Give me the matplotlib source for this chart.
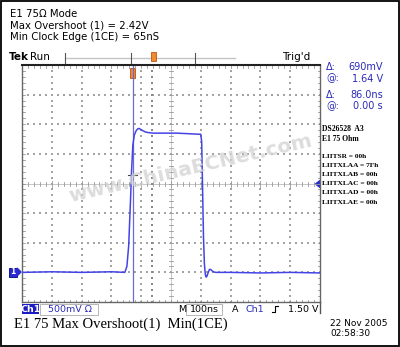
import matplotlib.pyplot as plt
import numpy as np

# scope settings / readings
volts_per_div = 0.5
ns_per_div = 100
y_lo, y_hi = -0.5, 3.5

# channel 1 trace (time in ns from left edge of screen, volts)
trace_t = [0, 100, 200, 300, 345, 352, 358, 364, 368, 372, 377, 383, 388, 393, 399, 406,
           414, 423, 440, 470, 520, 560, 600, 603, 606, 609, 612, 615, 618, 621, 625,
           629, 633, 637, 642, 650, 700, 800, 900, 1000]
trace_v = [0.0, 0.01, 0.0, 0.01, 0.0, 0.1, 0.45, 1.2, 1.75, 2.15, 2.32, 2.39, 2.42, 2.43, 2.41, 2.39,
           2.37, 2.36, 2.35, 2.35, 2.35, 2.34, 2.33, 2.2, 1.4, 0.6, 0.15, -0.03, -0.08, -0.06, 0.0,
           0.05, 0.05, 0.03, 0.01, 0.0, 0.0, -0.01, 0.0, -0.01]

cursor_solid = 371
cursor_dotted = 436
cursor_level = 1.65
trig_level = 1.5

header = ["E1 75\u03a9 Mode", "Max Overshoot (1) = 2.42V", "Min Clock Edge (1CE) = 65nS"]
readout_lbl = ["\u0394:", "@:", "\u0394:", "@:"]
readout_val = ["690mV", "1.64 V", "86.0ns", "0.00 s"]
regs = ["LIITSR = 00h", "LIITXLAA = 7Fh", "LIITXLAB = 00h", "LIITXLAC = 00h",
        "LIITXLAD = 00h", "LIITXLAE = 00h"]

fig = plt.figure(figsize=(4, 3.47), dpi=100)
fig.patch.set_facecolor('white')
ov = fig.add_axes([0, 0, 1, 1])
ov.set_xlim(0, 400)
ov.set_ylim(347, 0)
ov.axis('off')

ax = fig.add_axes([22/400, (347-302)/347, 298/400, 237/347])
ax.set_facecolor('none')
ax.set_xlim(0, 1000)
ax.set_ylim(y_lo, y_hi)
ax.set_xticks([])
ax.set_yticks([])
for s in ax.spines.values():
    s.set_color('#666666')
    s.set_linewidth(1.0)
ax.spines['top'].set_color('#222222')
ax.spines['top'].set_linewidth(1.5)

pxx = 1000/298
pxy = 4/237
grid_c = '#a4a4a4'
tick_c = '#999999'
# dotted grid
xs = np.arange(0, 1001, 20)
ys = np.arange(y_lo, y_hi + 0.001, 0.1)
for gx in range(100, 1000, 100):
    if gx == 500:
        continue
    ax.scatter(np.full(len(ys), gx), ys, s=0.8, marker='s', color=grid_c, lw=0, zorder=1)
for gy in np.arange(0, 3.01, 0.5):
    if abs(gy - 1.5) < 1e-6:
        continue
    ax.scatter(xs, np.full(len(xs), gy), s=0.8, marker='s', color=grid_c, lw=0, zorder=1)
# center lines with ticks
ax.plot([0, 1000], [1.5, 1.5], color='#b0b0b0', lw=0.5, zorder=1)
ax.plot([500, 500], [y_lo, y_hi], color='#b0b0b0', lw=0.5, zorder=1)
for tx in xs:
    h = 3 if tx % 100 == 0 else 2
    ax.plot([tx, tx], [1.5 - h*pxy, 1.5 + h*pxy], color=tick_c, lw=0.6, zorder=1)
    ax.plot([tx, tx], [y_hi, y_hi - 2.5*pxy], color=tick_c, lw=0.6, zorder=1)
    ax.plot([tx, tx], [y_lo, y_lo + 2.5*pxy], color=tick_c, lw=0.6, zorder=1)
for ty in ys:
    ax.plot([500 - 2*pxx, 500 + 2*pxx], [ty, ty], color=tick_c, lw=0.6, zorder=1)
    ax.plot([0, 2.5*pxx], [ty, ty], color=tick_c, lw=0.6, zorder=1)
    ax.plot([1000, 1000 - 2.5*pxx], [ty, ty], color=tick_c, lw=0.6, zorder=1)

# cursors
ax.axvline(cursor_solid, color='#6a6ad6', lw=0.9, zorder=2)
ax.scatter(np.full(len(ys), cursor_dotted), ys, s=0.8, marker='s', color='#888888', lw=0, zorder=2)
ax.plot([cursor_solid - 14, cursor_solid + 14], [cursor_level, cursor_level], color='#444444', lw=0.8, zorder=2)

# trace
ax.plot(trace_t, trace_v, color='#4444e6', lw=1.1, zorder=3)

# watermark
ax.text(0.567, 0.565, 'www.ChinaECNet.com', rotation=13, fontsize=14.5, fontweight='bold',
        color='#d4d4d4', alpha=0.8, ha='center', va='center', zorder=4, transform=ax.transAxes)

# header
for i, t in enumerate(header):
    ov.text(10, 14 + i*11.3, t, fontsize=7.3, va='center', ha='left', color='black')

# top record bar
ov.text(9, 57, 'Tek', fontsize=7.5, fontweight='bold', va='center', ha='left')
ov.text(30, 57, 'Run', fontsize=7.5, va='center', ha='left')
ov.plot([65, 235], [57.5, 57.5], color='#c4c4c4', lw=1.0)
for bx in (65, 131, 195):
    ov.plot([bx, bx], [53, 63], color='#555555', lw=0.8)
ov.text(282, 57, "Trig'd", fontsize=7.5, va='center', ha='left')
ov.add_patch(plt.Rectangle((150.5, 52), 5, 9, facecolor='#f08a30', edgecolor='#c05010', lw=0.6, zorder=6))
ov.add_patch(plt.Rectangle((130, 68), 5, 10, facecolor='#f08a30', edgecolor='#c05010', lw=0.6, zorder=6))

# left ground marker and right trigger level marker
ov.add_patch(plt.Rectangle((9, 267.5), 8, 9, facecolor='#2a2ad0', edgecolor='#000080', lw=0.6))
ov.text(13, 272, '1', fontsize=5.5, color='white', ha='center', va='center', fontweight='bold')
ov.add_patch(plt.Polygon([[17, 268], [21, 272], [17, 276]], color='#2a2ad0'))
ov.add_patch(plt.Polygon([[320, 180.5], [315.5, 184], [320, 187.5]], color='#2a2ad0'))

# right readout
blue = '#2a2ab8'
ry = [67, 78.5, 95, 106]
for lbl, val, y in zip(readout_lbl, readout_val, ry):
    ov.text(326, y, lbl, fontsize=7, color=blue, va='center', ha='left')
    ov.text(383, y, val, fontsize=7, color=blue, va='center', ha='right')
ov.text(322, 129, 'DS26528  A3', fontsize=5.5, family='Liberation Serif', fontweight='bold', va='center')
ov.text(322, 138.5, 'E1 75 Ohm', fontsize=5.5, family='Liberation Serif', fontweight='bold', va='center')
for i, r in enumerate(regs):
    ov.text(322, 156 + i*9.2, r, fontsize=5.3, family='Liberation Serif', fontweight='bold', va='center')

# bottom status line
ov.add_patch(plt.Rectangle((22, 304), 17, 10, facecolor='#1c1cc0', edgecolor='none'))
ov.text(30.5, 309, 'Ch1', fontsize=6.8, color='white', ha='center', va='center', fontweight='bold')
ov.add_patch(plt.Rectangle((40, 303.5), 58, 11, facecolor='none', edgecolor='#aaaaaa', lw=0.6))
ov.text(48, 309, '500mV \u03a9', fontsize=6.8, color=blue, ha='left', va='center')
ov.text(178, 309, 'M', fontsize=6.8, ha='left', va='center')
ov.add_patch(plt.Rectangle((186, 303.5), 36, 11, facecolor='none', edgecolor='#aaaaaa', lw=0.6))
ov.text(190, 309, '100ns', fontsize=6.8, ha='left', va='center')
ov.text(232, 309, 'A', fontsize=6.8, ha='left', va='center')
ov.text(246, 309, 'Ch1', fontsize=6.8, color=blue, ha='left', va='center')
ov.plot([272, 275, 275, 278], [312, 312, 306, 306], color='black', lw=0.8)
ov.text(318, 309, '1.50 V', fontsize=6.8, ha='right', va='center')
ov.plot([320, 320], [302, 313], color='#555555', lw=1.0)

ov.text(14, 324, 'E1 75 Max Overshoot(1)  Min(1CE)', fontsize=10.5, family='Liberation Serif',
        va='center', ha='left')
ov.text(330, 323, '22 Nov 2005', fontsize=6.5, va='center', ha='left')
ov.text(330, 333, '02:58:30', fontsize=6.5, va='center', ha='left')

# outer frame
ov.add_patch(plt.Rectangle((0.7, 0.7), 398.3, 345.3, facecolor='none', edgecolor='black', lw=1.3))

fig.savefig('out.png', dpi=100)
